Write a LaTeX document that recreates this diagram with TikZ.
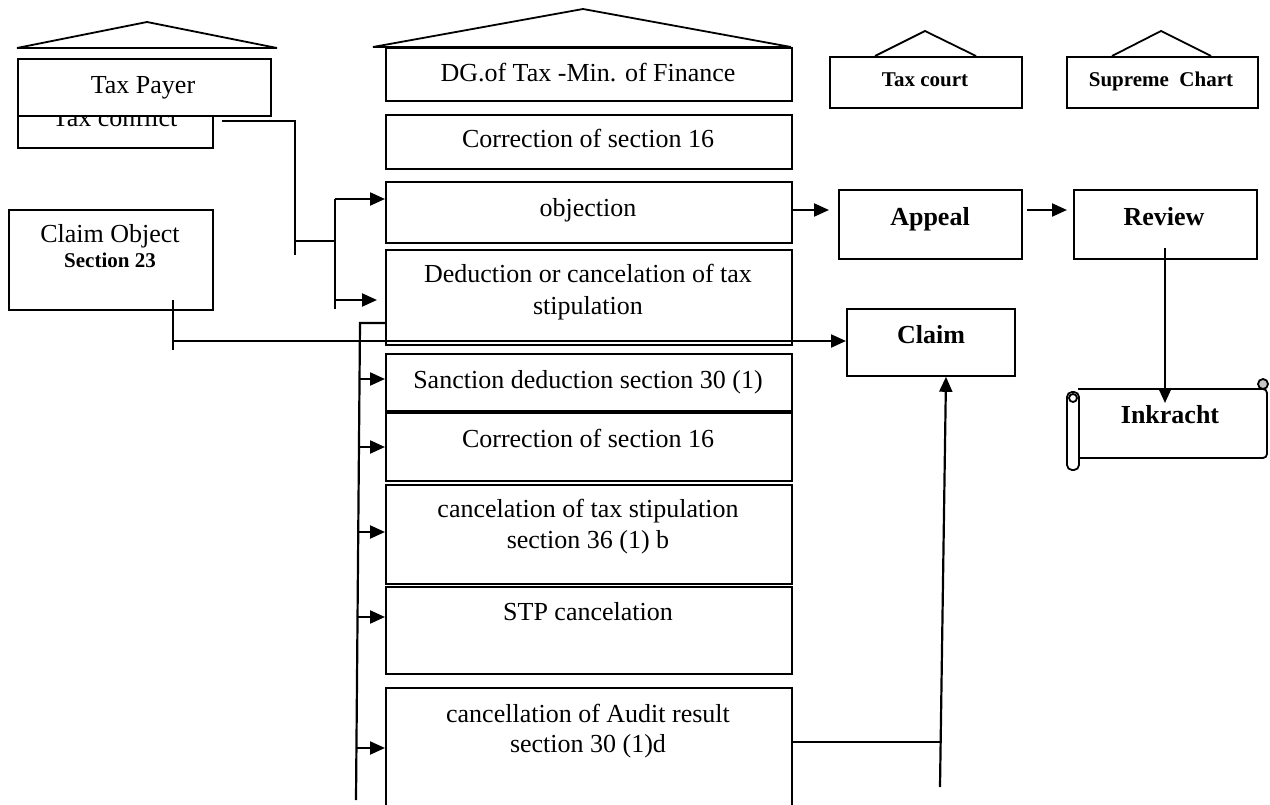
\documentclass[tikz,border=0pt]{standalone}
\usepackage{fontspec}
\setmainfont{Liberation Serif}
\usetikzlibrary{arrows.meta}
\begin{document}
\begin{tikzpicture}[x=1pt,y=-1pt,
  box/.style={draw, line width=1.8pt, fill=white, anchor=north west, inner sep=0pt},
  conn/.style={line width=2.2pt},
  arr/.style={line width=2.2pt, -{Triangle[length=15pt,width=13pt]}},
  roof/.style={line width=1.8pt, line join=miter},
  scroll/.style={line width=1.8pt},
  txt/.style={anchor=base, inner sep=0pt, font=\fontsize{26}{30}\selectfont},
  btxt/.style={anchor=base, inner sep=0pt, font=\fontsize{26}{30}\selectfont\bfseries},
  stxt/.style={anchor=base, inner sep=0pt, font=\fontsize{21}{24}\selectfont\bfseries}]
\useasboundingbox (0,0) rectangle (1270,805);
\clip (0,0) rectangle (1270,805);

% ---- Tax payer group ----
\draw[roof] (17,48) -- (147,22) -- (277,48) -- cycle;
\node[box, minimum width=195pt, minimum height=55pt] (taxconflict) at (17,92) {};
\node[txt] (tcT) at (115,127) {Tax conflict};
\node[box, minimum width=253pt, minimum height=57pt] (taxpayer) at (17,58) {};
\node[txt] (tpT) at (143,94) {Tax Payer};

\node[box, minimum width=204pt, minimum height=100pt] (claimobj) at (8,209) {};
\node[txt] (coT) at (110,243) {Claim Object};
\node[stxt] (coS) at (110,268) {Section 23};

% ---- middle column ----
\draw[roof] (373,47) -- (583,9) -- (791,47) -- cycle;
\node[box, minimum width=406pt, minimum height=53pt] (dg) at (385,47) {};
\node[txt] (dgT) at (588,82) {DG.of Tax -Min. of Finance};
\node[box, minimum width=406pt, minimum height=54pt] (corr1) at (385,114) {};
\node[txt] (c1T) at (588,148) {Correction of section 16};
\node[box, minimum width=406pt, minimum height=61pt] (objection) at (385,181) {};
\node[txt] (obT) at (588,217) {objection};
\node[box, minimum width=406pt, minimum height=95pt] (deduction) at (385,249) {};
\node[txt] (deT1) at (588,283) {Deduction or cancelation of tax};
\node[txt] (deT2) at (588,315) {stipulation};
\node[box, minimum width=406pt, minimum height=57pt] (sanction) at (385,353) {};
\node[txt] (saT) at (588,388) {Sanction deduction section 30 (1)};
\node[box, minimum width=406pt, minimum height=68pt] (corr2) at (385,412) {};
\node[txt] (c2T) at (588,447) {Correction of section 16};
\node[box, minimum width=406pt, minimum height=99pt] (cancel) at (385,484) {};
\node[txt] (caT1) at (588,517) {cancelation of tax stipulation};
\node[txt] (caT2) at (588,548) {section 36 (1) b};
\node[box, minimum width=406pt, minimum height=87pt] (stp) at (385,586) {};
\node[txt] (stT) at (588,620) {STP cancelation};
\node[box, minimum width=406pt, minimum height=130pt] (audit) at (385,687) {};
\node[txt] (auT1) at (588,722) {cancellation of Audit result};
\node[txt] (auT2) at (588,752) {section 30 (1)d};

% ---- courts ----
\draw[roof] (875,56) -- (925,31) -- (976,56);
\node[box, minimum width=192pt, minimum height=51pt] (taxcourt) at (829,56) {};
\node[stxt] (tcoT) at (925,87) {Tax court};
\draw[roof] (1112,56) -- (1161,31) -- (1211,56);
\node[box, minimum width=191pt, minimum height=51pt] (supreme) at (1066,56) {};
\node[stxt] (suT) at (1161,87) {Supreme\ \ Chart};

\node[box, minimum width=183pt, minimum height=69pt] (appeal) at (838,189) {};
\node[btxt] (apT) at (930,226) {Appeal};
\node[box, minimum width=183pt, minimum height=69pt] (review) at (1073,189) {};
\node[btxt] (reT) at (1164,226) {Review};
\node[box, minimum width=168pt, minimum height=67pt] (claim) at (846,308) {};
\node[btxt] (clT) at (931,343) {Claim};

% ---- scroll ----
\node[anchor=north west, inner sep=0pt, minimum width=190pt, minimum height=69pt] (inkracht) at (1078,389) {};
\draw[scroll, rounded corners=4pt] (1078,389) -- (1267,389) -- (1267,458) -- (1078,458);
\draw[scroll, fill=gray!45] (1263,384) circle (5pt);
\draw[scroll, fill=white, rounded corners=5pt] (1067,392) rectangle (1079,470);
\draw[scroll] (1073,398) circle (4pt);
\node[btxt] (inT) at (1170,423) {Inkracht};

% ---- connectors ----
\draw[conn] ([xshift=8pt]taxconflict.east |- 0,121) -| (295,255);
\draw[conn] (295,241) -- (335,241);
\draw[conn] (335,199) -- (335,309);
\draw[arr] (335,199) -- (objection.west |- 335,199);
\draw[arr] (335,300) -- ([xshift=-8pt]deduction.west |- 335,300);

\draw[conn] (173,300) -- (173,350);
\draw[arr] (173,341) -- (claim.west |- 173,341);

\draw[conn] (deduction.west |- 0,323) -- (360,323) -- (356,800);
\draw[arr] (359.5,379) -- (sanction.west |- 0,379);
\draw[arr] (359,447) -- (corr2.west |- 0,447);
\draw[arr] (358.5,532) -- (cancel.west |- 0,532);
\draw[arr] (358,617) -- (stp.west |- 0,617);
\draw[arr] (357,748) -- (audit.west |- 0,748);

\draw[conn] (audit.east |- 0,742) -- (941,742);
\draw[arr] (940,787) -- (claim.south -| 946,0);

\draw[arr] (objection.east |- 0,210) -- ([xshift=-9pt]appeal.west |- 0,210);
\draw[arr] ([xshift=4pt]appeal.east |- 0,210) -- ([xshift=-6pt]review.west |- 0,210);
\draw[arr] (1165,248) -- (1165,403);
\end{tikzpicture}
\end{document}
